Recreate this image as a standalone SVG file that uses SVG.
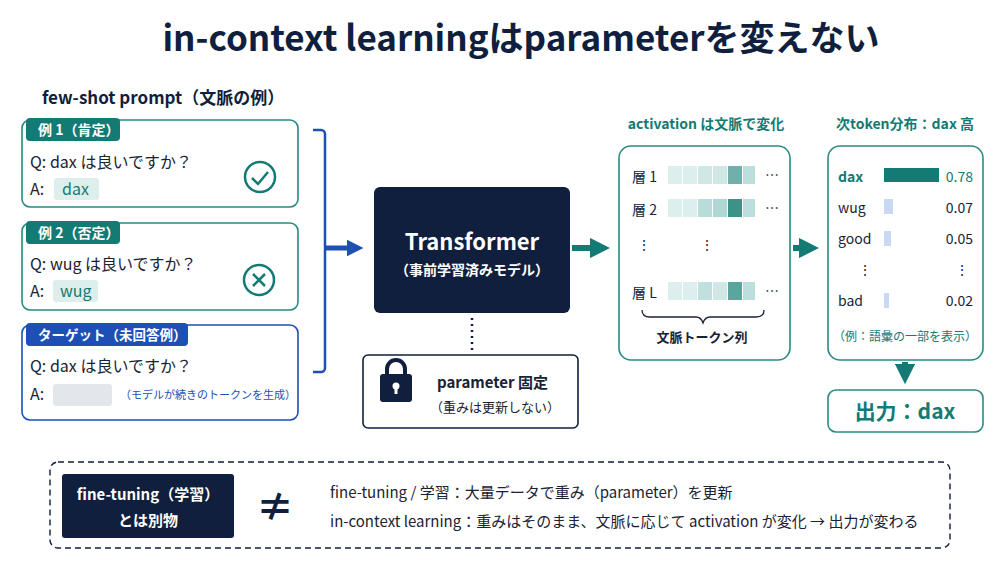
<svg xmlns="http://www.w3.org/2000/svg" width="1000" height="563" viewBox="0 0 1000 563">
<style>
text{font-family:"Noto Sans CJK JP","Noto Sans",sans-serif;fill:#1a2233}
.b{font-weight:bold}
.teal{fill:#137a74}
.blue{fill:#1d4fb5}
.w{fill:#fff}
.card{fill:#fff;stroke:#2a8a82;stroke-width:1.6}
.cell{stroke:none}
</style>
<defs>
<marker id="ah" viewBox="0 0 10 10" refX="5" refY="5" markerWidth="3.4" markerHeight="3.4" orient="auto"><path d="M0,0L10,5L0,10z" fill="context-stroke"/></marker>
</defs>
<rect width="1000" height="563" fill="#fff"/>
<text x="521" y="51" text-anchor="middle" class="b" font-size="35" style="fill:#0f1f3d">in-context learningはparameterを変えない</text>
<text x="42" y="104" class="b" font-size="17" style="fill:#0f1f3d">few-shot prompt（文脈の例）</text>

<g id="ex1">
<rect x="22" y="120" width="276" height="87" rx="8" class="card"/>
<rect x="26" y="118" width="94" height="23" rx="4" fill="#137a74"/>
<text x="38" y="135" class="b w" font-size="14">例 1（肯定）</text>
<text x="30" y="168" font-size="16">Q:  dax は良いですか？</text>
<text x="30" y="195" font-size="16">A:</text>
<rect x="54" y="178" width="45" height="22" rx="3" fill="#dcefed"/>
<text x="62" y="195" font-size="16" class="teal">dax</text>
<circle cx="260" cy="177" r="15" fill="none" stroke="#137a74" stroke-width="2.5"/>
<path d="M252,178l6,6l10,-12" fill="none" stroke="#137a74" stroke-width="2.5"/>
</g>
<g id="ex2">
<rect x="22" y="223" width="276" height="87" rx="8" class="card"/>
<rect x="26" y="221" width="94" height="23" rx="4" fill="#137a74"/>
<text x="38" y="238" class="b w" font-size="14">例 2（否定）</text>
<text x="30" y="270" font-size="16">Q:  wug は良いですか？</text>
<text x="30" y="297" font-size="16">A:</text>
<rect x="53" y="280" width="45" height="22" rx="3" fill="#dcefed"/>
<text x="60" y="297" font-size="16" class="teal">wug</text>
<circle cx="259" cy="280" r="15" fill="none" stroke="#137a74" stroke-width="2.5"/>
<path d="M253,274l12,12M265,274l-12,12" stroke="#137a74" stroke-width="2.5"/>
</g>
<g id="target">
<rect x="22" y="325" width="276" height="95" rx="8" fill="#fff" stroke="#1d4fb5" stroke-width="1.6"/>
<rect x="26" y="323" width="162" height="23" rx="4" fill="#1d4fb5"/>
<text x="38" y="340" class="b w" font-size="13.5">ターゲット（未回答例）</text>
<text x="30" y="372" font-size="16">Q:  dax は良いですか？</text>
<text x="30" y="400" font-size="16">A:</text>
<rect x="53" y="384" width="59" height="22" rx="3" fill="#e3e7eb"/>
<text x="120" y="399" font-size="11" class="blue">（モデルが続きのトークンを生成）</text>
</g>

<g id="connectors" fill="none">
<path d="M313,130h8a4,4 0 0 1 4,4v234a4,4 0 0 1 -4,4h-8" stroke="#1d4fb5" stroke-width="2.5"/>
<path d="M325,248h30" stroke="#1d4fb5" stroke-width="5" marker-end="url(#ah)"/>
<path d="M572,248h28" stroke="#137a74" stroke-width="6" marker-end="url(#ah)"/>
<path d="M793,248h16" stroke="#137a74" stroke-width="6" marker-end="url(#ah)"/>
<path d="M905,362v12" stroke="#137a74" stroke-width="6" marker-end="url(#ah)"/>
<path d="M472,318v34" stroke="#0f1f3d" stroke-width="2.5" stroke-dasharray="2 4"/>
</g>

<g id="transformer">
<rect x="374" y="187" width="196" height="126" rx="6" fill="#0f1f3d"/>
<text x="472" y="250" text-anchor="middle" class="b w" font-size="22">Transformer</text>
<text x="472" y="275" text-anchor="middle" class="b w" font-size="14">（事前学習済みモデル）</text>
</g>
<g id="param">
<rect x="363" y="355" width="215" height="73" rx="5" fill="#fff" stroke="#0f1f3d" stroke-width="1.6"/>
<path d="M387,375v-6a9,9 0 0 1 18,0v6" fill="none" stroke="#0f1f3d" stroke-width="4"/>
<rect x="380" y="374" width="32" height="28" rx="3" fill="#0f1f3d"/>
<circle cx="396" cy="386" r="3.5" fill="#fff"/><rect x="394.5" y="386" width="3" height="8" fill="#fff"/>
<text x="437" y="388" class="b" font-size="15">parameter 固定</text>
<text x="430" y="412" font-size="13">（重みは更新しない）</text>
</g>

<g id="activation">
<text x="706" y="129" text-anchor="middle" class="b teal" font-size="14">activation は文脈で変化</text>
<rect x="619" y="146" width="171" height="214" rx="12" class="card"/>
<g font-size="14">
<text x="632" y="182">層 1</text><text x="632" y="215">層 2</text><text x="632" y="298">層 L</text>
<text x="765" y="180">…</text><text x="765" y="213">…</text><text x="765" y="296">…</text>
<text x="637" y="250">⋮</text><text x="700" y="250">⋮</text>
</g>
<g class="cell">
<rect x="668" y="166" width="14" height="18" fill="#dceeed"/><rect x="683" y="166" width="14" height="18" fill="#dceeed"/><rect x="698" y="166" width="14" height="18" fill="#cfe7e5"/><rect x="713" y="166" width="14" height="18" fill="#cfe7e5"/><rect x="728" y="166" width="14" height="18" fill="#6fb0aa"/><rect x="743" y="166" width="12" height="18" fill="#bddfdb"/>
<rect x="668" y="199" width="14" height="18" fill="#dceeed"/><rect x="683" y="199" width="14" height="18" fill="#dceeed"/><rect x="698" y="199" width="14" height="18" fill="#b8dcd8"/><rect x="713" y="199" width="14" height="18" fill="#b0d7d3"/><rect x="728" y="199" width="14" height="18" fill="#3b9289"/><rect x="743" y="199" width="12" height="18" fill="#bddfdb"/>
<rect x="668" y="282" width="14" height="18" fill="#dceeed"/><rect x="683" y="282" width="14" height="18" fill="#dceeed"/><rect x="698" y="282" width="14" height="18" fill="#bfe0dc"/><rect x="713" y="282" width="14" height="18" fill="#cfe7e5"/><rect x="728" y="282" width="14" height="18" fill="#5aa59e"/><rect x="743" y="282" width="12" height="18" fill="#bddfdb"/>
</g>
<path d="M642,310q0,7 8,7h46q5,0 7,6q2,-6 7,-6h46q8,0 8,-7" fill="none" stroke="#1a2233" stroke-width="1.3"/>
<text x="702" y="342" text-anchor="middle" class="b" font-size="13">文脈トークン列</text>
</g>

<g id="dist">
<text x="905" y="129" text-anchor="middle" class="b teal" font-size="14">次token分布：dax 高</text>
<rect x="828" y="146" width="155" height="214" rx="12" class="card"/>
<g font-size="14">
<text x="838" y="182" class="b teal">dax</text><rect x="884" y="168" width="55" height="14" fill="#137a74"/><text x="973" y="182" text-anchor="end" class="teal">0.78</text>
<text x="838" y="213">wug</text><rect x="884" y="199" width="9" height="15" fill="#c9d9f3"/><text x="973" y="213" text-anchor="end">0.07</text>
<text x="838" y="244">good</text><rect x="884" y="231" width="7" height="15" fill="#c9d9f3"/><text x="973" y="244" text-anchor="end">0.05</text>
<text x="858" y="275">⋮</text><text x="955" y="275">⋮</text>
<text x="838" y="306">bad</text><rect x="884" y="293" width="5" height="15" fill="#c9d9f3"/><text x="973" y="306" text-anchor="end">0.02</text>
</g>
<text x="905" y="341" text-anchor="middle" class="teal" font-size="12">（例：語彙の一部を表示）</text>
</g>

<g id="output">
<rect x="828" y="390" width="155" height="42" rx="8" class="card"/>
<text x="905" y="419" text-anchor="middle" class="b teal" font-size="21">出力：dax</text>
</g>

<g id="note">
<rect x="50" y="462" width="900" height="86" rx="8" fill="#fff" stroke="#0f1f3d" stroke-width="1.4" stroke-dasharray="6 4"/>
<rect x="62" y="474" width="172" height="64" rx="3" fill="#0f1f3d"/>
<text x="148" y="500" text-anchor="middle" class="b w" font-size="15">fine-tuning（学習）</text>
<text x="148" y="526" text-anchor="middle" class="b w" font-size="15">とは別物</text>
<text x="275" y="520" text-anchor="middle" class="b" font-size="38" style="fill:#0f1f3d">≠</text>
<text x="330" y="498" font-size="15">fine-tuning / 学習：大量データで重み（parameter）を更新</text>
<text x="330" y="527" font-size="15">in-context learning：重みはそのまま、文脈に応じて activation が変化 → 出力が変わる</text>
</g>
</svg>
